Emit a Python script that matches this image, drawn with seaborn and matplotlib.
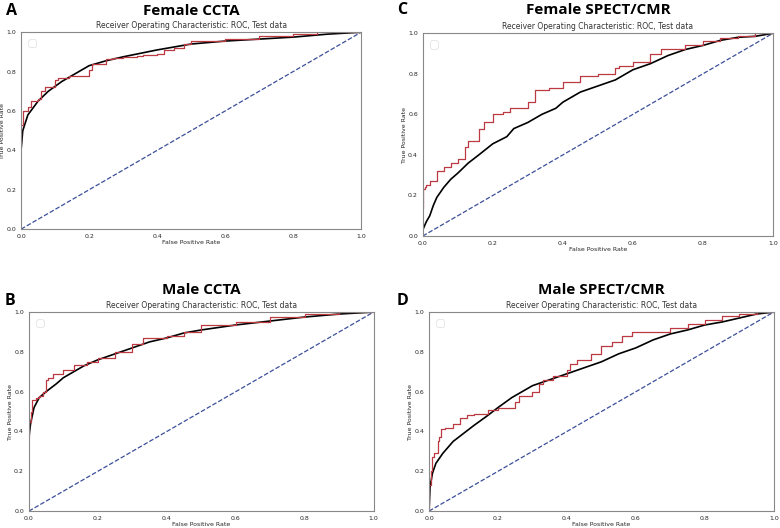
import matplotlib
matplotlib.use("Agg")
import matplotlib.pyplot as plt
import seaborn as sns

# panel titles / letters
panel_letters = ["A", "C", "B", "D"]
panel_titles = ["Female CCTA", "Female SPECT/CMR", "Male CCTA", "Male SPECT/CMR"]
sub_title = "Receiver Operating Characteristic: ROC, Test data"

# Female CCTA
fa_smooth_x = [0, 0.005, 0.02, 0.05, 0.08, 0.12, 0.16, 0.2, 0.25, 0.3, 0.4, 0.5, 0.6, 0.7, 0.8, 0.9, 1]
fa_smooth_y = [0.4, 0.5, 0.58, 0.65, 0.7, 0.75, 0.79, 0.83, 0.855, 0.875, 0.91, 0.94, 0.955, 0.965, 0.975, 0.99, 1]
fa_step_x = [0, 0.005, 0.02, 0.03, 0.05, 0.06, 0.07, 0.1, 0.11, 0.14, 0.15, 0.2, 0.21, 0.25, 0.27, 0.3,
             0.34, 0.36, 0.4, 0.42, 0.45, 0.48, 0.5, 0.6, 0.7, 0.8, 0.87, 0.9, 1]
fa_step_y = [0.45, 0.53, 0.6, 0.62, 0.65, 0.66, 0.7, 0.72, 0.755, 0.77, 0.78, 0.78, 0.81, 0.84, 0.865, 0.87,
             0.875, 0.88, 0.885, 0.89, 0.91, 0.92, 0.94, 0.955, 0.965, 0.98, 0.99, 1.0, 1]

# Female SPECT/CMR
fs_smooth_x = [0, 0.01, 0.02, 0.03, 0.04, 0.06, 0.08, 0.1, 0.13, 0.16, 0.2, 0.24, 0.26, 0.3, 0.34, 0.38, 0.4,
               0.45, 0.5, 0.55, 0.6, 0.65, 0.7, 0.75, 0.8, 0.85, 0.9, 0.95, 1]
fs_smooth_y = [0.03, 0.07, 0.1, 0.15, 0.19, 0.24, 0.28, 0.31, 0.36, 0.4, 0.455, 0.49, 0.53, 0.56, 0.6, 0.63, 0.66,
               0.71, 0.74, 0.77, 0.82, 0.85, 0.89, 0.92, 0.94, 0.965, 0.98, 0.985, 1]
fs_step_x = [0, 0.005, 0.01, 0.02, 0.04, 0.06, 0.08, 0.1, 0.12, 0.13, 0.16, 0.175, 0.2, 0.23, 0.25, 0.3, 0.32,
             0.36, 0.4, 0.45, 0.5, 0.55, 0.56, 0.6, 0.65, 0.68, 0.75, 0.8, 0.85, 0.9, 0.95, 1]
fs_step_y = [0.14, 0.23, 0.24, 0.25, 0.27, 0.32, 0.34, 0.36, 0.38, 0.44, 0.47, 0.53, 0.56, 0.6, 0.61, 0.63, 0.66,
             0.72, 0.73, 0.76, 0.79, 0.8, 0.83, 0.84, 0.86, 0.9, 0.92, 0.94, 0.96, 0.975, 0.985, 1]

# Male CCTA
ma_smooth_x = [0, 0.005, 0.015, 0.03, 0.05, 0.08, 0.1, 0.13, 0.16, 0.2, 0.25, 0.3, 0.35, 0.4, 0.45, 0.5,
               0.6, 0.7, 0.8, 0.9, 1]
ma_smooth_y = [0.37, 0.44, 0.52, 0.57, 0.6, 0.64, 0.67, 0.7, 0.73, 0.76, 0.79, 0.82, 0.85, 0.87, 0.895, 0.91,
               0.935, 0.955, 0.975, 0.99, 1]
ma_step_x = [0, 0.005, 0.01, 0.02, 0.03, 0.04, 0.05, 0.055, 0.07, 0.08, 0.1, 0.13, 0.17, 0.2, 0.25, 0.3, 0.33,
             0.4, 0.45, 0.5, 0.6, 0.7, 0.8, 0.9, 1]
ma_step_y = [0.37, 0.45, 0.5, 0.56, 0.57, 0.58, 0.6, 0.66, 0.67, 0.69, 0.69, 0.71, 0.735, 0.75, 0.77, 0.8, 0.84,
             0.87, 0.88, 0.9, 0.935, 0.95, 0.975, 0.99, 1]

# Male SPECT/CMR
ms_smooth_x = [0, 0.003, 0.01, 0.02, 0.04, 0.07, 0.1, 0.13, 0.17, 0.2, 0.24, 0.28, 0.3, 0.35, 0.4, 0.45, 0.5,
               0.55, 0.6, 0.65, 0.7, 0.75, 0.8, 0.85, 0.9, 0.95, 1]
ms_smooth_y = [0.0, 0.12, 0.19, 0.24, 0.29, 0.35, 0.39, 0.43, 0.48, 0.52, 0.57, 0.61, 0.63, 0.66, 0.69, 0.72, 0.75,
               0.79, 0.82, 0.86, 0.89, 0.91, 0.935, 0.95, 0.97, 0.99, 1]
ms_step_x = [0, 0.005, 0.01, 0.015, 0.025, 0.03, 0.035, 0.045, 0.07, 0.09, 0.11, 0.13, 0.17, 0.2, 0.25, 0.26,
             0.3, 0.32, 0.33, 0.36, 0.4, 0.41, 0.43, 0.47, 0.5, 0.53, 0.56, 0.59, 0.65, 0.7, 0.75, 0.8, 0.85,
             0.9, 0.95, 1]
ms_step_y = [0.0, 0.13, 0.2, 0.27, 0.29, 0.35, 0.37, 0.41, 0.42, 0.44, 0.47, 0.485, 0.49, 0.51, 0.52, 0.55,
             0.58, 0.6, 0.64, 0.66, 0.68, 0.71, 0.74, 0.76, 0.79, 0.83, 0.85, 0.88, 0.9, 0.9, 0.92, 0.94, 0.96,
             0.98, 0.99, 1]

smooth_curves = [(fa_smooth_x, fa_smooth_y), (fs_smooth_x, fs_smooth_y),
                 (ma_smooth_x, ma_smooth_y), (ms_smooth_x, ms_smooth_y)]
step_curves = [(fa_step_x, fa_step_y), (fs_step_x, fs_step_y),
               (ma_step_x, ma_step_y), (ms_step_x, ms_step_y)]
chance = [0, 1]

sns.set_style("white")
plt.rcParams['font.family'] = ['DejaVu Sans']

fig = plt.figure(figsize=(7.8, 5.28), dpi=100)

# axes boxes in figure fraction
boxes = [[0.027, 0.566, 0.436, 0.373],
         [0.542, 0.553, 0.449, 0.384],
         [0.037, 0.032, 0.442, 0.377],
         [0.550, 0.032, 0.442, 0.377]]
# baselines for the bold headers and letters
title_y = [0.972, 0.974, 0.443, 0.443]
letter_x = [0.008, 0.509, 0.006, 0.509]
letter_y = [0.972, 0.974, 0.423, 0.423]
hfont = ["Open Sans", "DejaVu Sans"]

for i in range(4):
    ax = fig.add_axes(boxes[i])
    sns.lineplot(x=chance, y=chance, ax=ax, color="#3b4f9a", linestyle="--", linewidth=0.9)
    sx, sy = smooth_curves[i]
    sns.lineplot(x=sx, y=sy, ax=ax, color="black", linewidth=1.2, sort=False, estimator=None)
    rx, ry = step_curves[i]
    sns.lineplot(x=rx, y=ry, ax=ax, color="#bb3a42", linewidth=0.9, sort=False, estimator=None,
                 drawstyle="steps-pre")
    ax.set_xlim(0, 1)
    ax.set_ylim(0, 1)
    ax.set_xticks([0, 0.2, 0.4, 0.6, 0.8, 1.0])
    ax.set_yticks([0, 0.2, 0.4, 0.6, 0.8, 1.0])
    ax.tick_params(labelsize=4.5, length=2, width=0.5, color="#555555", pad=1.5)
    ax.set_xlabel("False Positive Rate", fontsize=4.5, labelpad=1)
    ax.set_ylabel("True Positive Rate", fontsize=4.5, labelpad=1)
    ax.set_title(sub_title, fontsize=5.5, pad=3, color="#333333")
    for s in ax.spines.values():
        s.set_color("#888888")
        s.set_linewidth(0.8)
    leg = ax.legend(handles=[], loc="upper left", frameon=True, borderpad=0.3)
    leg.get_frame().set_linewidth(0.4)

    bx = boxes[i]
    cx = bx[0] + bx[2] / 2
    fig.text(cx, title_y[i], panel_titles[i], ha="center", va="baseline", fontsize=11,
             fontweight="bold", family=hfont, color="black")
    fig.text(letter_x[i], letter_y[i], panel_letters[i], fontsize=11.5, fontweight="bold",
             va="baseline", family=hfont, color="black")

fig.savefig("out.png", dpi=100)
